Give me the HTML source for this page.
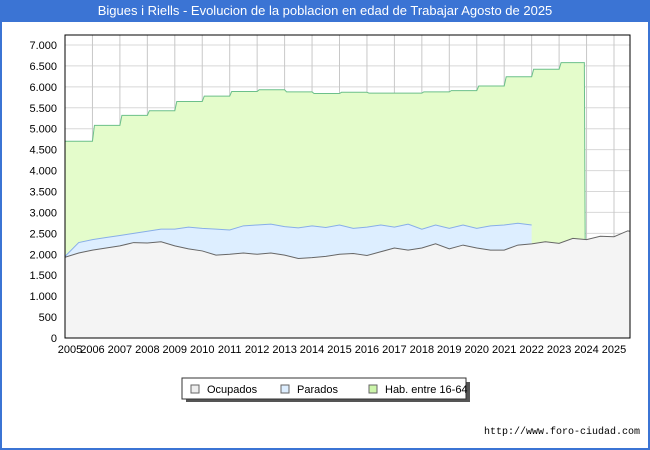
<!DOCTYPE html>
<html><head><meta charset="utf-8"><style>
body{margin:0;background:#fff;}
#wrap{position:relative;width:646px;height:448px;border-left:2px solid #3b74d4;border-right:2px solid #3b74d4;border-bottom:2px solid #3b74d4;background:#fff;font-family:"Liberation Sans",sans-serif;}
#title{position:absolute;left:-2px;top:0;width:650px;height:22px;background:#3b74d4;color:#fff;font-size:13px;line-height:22px;text-align:center;}
#url{position:absolute;right:8px;top:427px;font-size:10px;font-family:"Liberation Mono",monospace;color:#000;}
</style></head><body>
<div id="wrap">
<div id="title">Bigues i Riells - Evolucion de la poblacion en edad de Trabajar Agosto de 2025</div>
<svg id="chart" width="650" height="450" style="position:absolute;left:-2px;top:0"></svg>
<div id="url">http://www.foro-ciudad.com</div>
</div>
<script>
const years=[2005,2006,2007,2008,2009,2010,2011,2012,2013,2014,2015,2016,2017,2018,2019,2020,2021,2022,2023,2024,2025];
const yTicks=[0,500,1000,1500,2000,2500,3000,3500,4000,4500,5000,5500,6000,6500,7000];
const habYears=[2005,2006,2007,2008,2009,2010,2011,2012,2013,2014,2015,2016,2017,2018,2019,2020,2021,2022,2023];
const habValues=[4700,5080,5320,5430,5650,5780,5890,5930,5880,5840,5870,5850,5850,5880,5910,6020,6240,6420,6580];
// half-yearly samples starting Jan 2005
const ocupados=[1930,2030,2100,2150,2200,2280,2270,2300,2200,2130,2080,1980,2000,2030,2000,2030,1980,1900,1920,1950,2000,2020,1970,2060,2150,2100,2150,2250,2130,2220,2150,2100,2100,2220,2250,2300,2260,2380,2350,2430,2420,2560,2550];
const parados=[20,250,250,250,250,220,280,300,400,520,540,620,580,650,700,690,680,730,760,690,700,600,680,640,500,620,450,450,490,480,470,580,600,520,450];
const habEnd=2023.95, parEnd=2022.15, ocuEnd=2025.58;
const svg=document.getElementById('chart');const NS='http://www.w3.org/2000/svg';
const L=65,R=630,T=35,B=338;
const X=v=>L+(v-2005)*(614-L)/20;
const Y=v=>B-v*(B-45)/7000;
function el(t,a,name){const e=document.createElementNS(NS,t);for(const k in a)e.setAttribute(k,a[k]);


svg.appendChild(e);return e;}
el('rect',{x:L,y:T,width:R-L,height:B-T,fill:'#fff'},'plot-area');
// grid
yTicks.forEach(v=>{el('line',{x1:L,x2:R,y1:Y(v),y2:Y(v),stroke:'#d8d8d8','stroke-width':1},'y-gridline');
const t=el('text',{x:L-8,y:Y(v)+4,'text-anchor':'end','font-size':11,fill:'#000'},'y-tick-label');t.textContent=v.toLocaleString('de-DE');});
years.forEach(v=>{el('line',{x1:X(v),x2:X(v),y1:T,y2:B,stroke:'#c8c8c8','stroke-width':1},'x-gridline');
const t=el('text',{x:X(v)+(v==2005?5:0),y:B+15,'text-anchor':'middle','font-size':11,fill:'#000'},'x-tick-label');t.textContent=v;});
// hab stepped
let hp=[];habYears.forEach((y,i)=>{if(i>0)hp.push([X(y)+0.5*0,Y(habValues[i-1])]);hp.push([X(y)+(i>0?2:0),Y(habValues[i])]);});
hp.push([X(habEnd-0.03),Y(habValues[habValues.length-1])]);hp.push([X(habEnd),Y(ocupados[Math.round((habEnd-2005)*2)])]);
const hs=hp.map(p=>p.join(',')).join(' ');
el('polygon',{points:hs+` ${X(habEnd)},${B} ${L},${B}`,fill:'#e4fccb',stroke:'none'},'hab-area');
el('polyline',{points:hs,fill:'none',stroke:'#6cc08a','stroke-width':1},'hab-line');
const tOf=i=>Math.min(2005+i*0.5,ocuEnd);
// parados top
let pt=[];parados.forEach((p,i)=>{const t=Math.min(2005+i*0.5,parEnd);pt.push([X(t),Y(p+ocupados[i])]);});
let ob=[];for(let i=parados.length-1;i>=0;i--)ob.push([X(Math.min(2005+i*0.5,parEnd)),Y(ocupados[i])]);
el('polygon',{points:pt.concat(ob).map(p=>p.join(',')).join(' '),fill:'#ddeeff',stroke:'none'},'parados-area');
el('polyline',{points:pt.map(p=>p.join(',')).join(' '),fill:'none',stroke:'#88aee8','stroke-width':1},'parados-line');
let op=ocupados.map((o,i)=>[X(tOf(i)),Y(o)]);
el('polygon',{points:op.map(p=>p.join(',')).join(' ')+` ${X(ocuEnd)},${B} ${L},${B}`,fill:'#f4f4f4',stroke:'none'},'ocupados-area');
el('polyline',{points:op.map(p=>p.join(',')).join(' '),fill:'none',stroke:'#666','stroke-width':1},'ocupados-line');
el('rect',{x:L,y:T,width:R-L,height:B-T,fill:'none',stroke:'#000','stroke-width':1},'plot-border');
// legend
el('rect',{x:186,y:382,width:284,height:20,fill:'#555'},'legend-shadow');
el('rect',{x:182,y:378,width:284,height:21,fill:'#fff',stroke:'#333','stroke-width':1},'legend-box');
[['Ocupados','#eeeeee',191],['Parados','#ddeeff',281],['Hab. entre 16-64','#ccf5aa',369]].forEach(d=>{
el('rect',{x:d[2],y:385,width:8,height:8,fill:d[1],stroke:'#666','stroke-width':1},'legend-swatch');
const t=el('text',{x:d[2]+16,y:393,'font-size':11,fill:'#000'},'legend-entry');t.textContent=d[0];});
</script>
</body></html>
